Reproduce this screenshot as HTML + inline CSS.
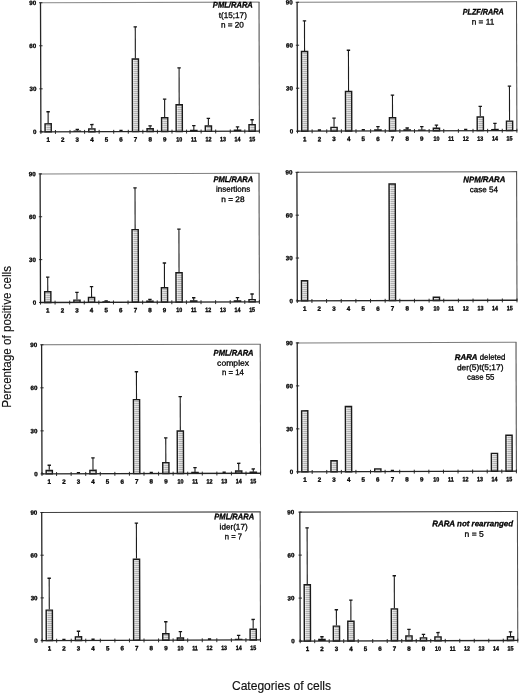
<!DOCTYPE html>
<html><head><meta charset="utf-8"><title>Figure</title>
<style>
html,body{margin:0;padding:0;background:#fff;}
body{width:520px;height:693px;overflow:hidden;}
svg{display:block;font-family:"Liberation Sans",sans-serif;filter:grayscale(1);}
.tk{font-size:6.2px;font-weight:bold;fill:#000;stroke:#000;stroke-width:0.32;}
.bi{font-size:8px;font-weight:bold;font-style:italic;fill:#000;stroke:#000;stroke-width:0.3;}
.rg{font-size:8px;font-weight:normal;font-style:normal;fill:#000;stroke:#000;stroke-width:0.28;}
.ax{stroke:#262626;stroke-width:1.3;fill:none;}
.fr{stroke:#4c4c4c;stroke-width:1.05;fill:none;}
.t{stroke:#222;stroke-width:0.95;fill:none;}
.e{stroke:#1c1c1c;stroke-width:1.1;fill:none;}
.c{stroke:#151515;stroke-width:1.3;fill:none;}
.bo{fill:none;stroke:#1a1a1a;stroke-width:1.4;}
.bf{fill:url(#dots);stroke:none;}
.m{fill:#151515;stroke:none;}
.lab{font-size:12.05px;fill:#111;stroke:#111;stroke-width:0.15;}
</style></head><body>
<svg width="520" height="693" viewBox="0 0 520 693">
<defs>
<pattern id="dots" width="2" height="2" patternUnits="userSpaceOnUse">
<rect width="2" height="2" fill="#e0e0e0"/><rect x="0" y="1" width="2" height="1" fill="#b2b2b2"/>
</pattern>
</defs>
<rect width="520" height="693" fill="#fff"/>
<g><rect class="bf" x="45.06" y="123.82" width="6.2" height="8.01"/><rect x="45.76" y="124.42" width="1.1" height="7.21" fill="#fff" fill-opacity="0.45"/><rect class="bf" x="88.77" y="128.86" width="6.2" height="2.84"/><rect x="89.47" y="129.46" width="1.1" height="2.04" fill="#fff" fill-opacity="0.45"/><rect class="bf" x="132.37" y="59.01" width="6.2" height="72.56"/><rect x="133.07" y="59.61" width="1.1" height="71.76" fill="#fff" fill-opacity="0.45"/><rect class="bf" x="147.04" y="128.68" width="6.2" height="2.84"/><rect x="147.74" y="129.28" width="1.1" height="2.04" fill="#fff" fill-opacity="0.45"/><rect class="bf" x="161.59" y="117.74" width="6.2" height="13.74"/><rect x="162.29" y="118.34" width="1.1" height="12.94" fill="#fff" fill-opacity="0.45"/><rect class="bf" x="176.13" y="104.78" width="6.2" height="26.65"/><rect x="176.83" y="105.38" width="1.1" height="25.85" fill="#fff" fill-opacity="0.45"/><rect class="bf" x="205.3" y="125.93" width="6.2" height="5.42"/><rect x="206" y="126.53" width="1.1" height="4.62" fill="#fff" fill-opacity="0.45"/><rect class="bf" x="249" y="124.65" width="6.2" height="6.57"/><rect x="249.7" y="125.25" width="1.1" height="5.77" fill="#fff" fill-opacity="0.45"/><rect class="bf" x="301.59" y="51.54" width="6.2" height="79.64"/><rect x="302.29" y="52.14" width="1.1" height="78.84" fill="#fff" fill-opacity="0.45"/><rect class="bf" x="330.95" y="127.39" width="6.2" height="3.7"/><rect x="331.65" y="127.99" width="1.1" height="2.9" fill="#fff" fill-opacity="0.45"/><rect class="bf" x="345.53" y="91.53" width="6.2" height="39.52"/><rect x="346.23" y="92.13" width="1.1" height="38.72" fill="#fff" fill-opacity="0.45"/><rect class="bf" x="389.44" y="117.76" width="6.2" height="13.15"/><rect x="390.14" y="118.36" width="1.1" height="12.35" fill="#fff" fill-opacity="0.45"/><rect class="bf" x="433.34" y="128.24" width="6.2" height="2.55"/><rect x="434.04" y="128.84" width="1.1" height="1.75" fill="#fff" fill-opacity="0.45"/><rect class="bf" x="477.2" y="116.93" width="6.2" height="13.73"/><rect x="477.9" y="117.53" width="1.1" height="12.93" fill="#fff" fill-opacity="0.45"/><rect class="bf" x="506.46" y="121.14" width="6.2" height="9.43"/><rect x="507.16" y="121.74" width="1.1" height="8.63" fill="#fff" fill-opacity="0.45"/><rect class="bf" x="44.67" y="291.79" width="6.2" height="10.69"/><rect x="45.37" y="292.39" width="1.1" height="9.89" fill="#fff" fill-opacity="0.45"/><rect class="bf" x="73.87" y="300.13" width="6.2" height="2.26"/><rect x="74.57" y="300.73" width="1.1" height="1.46" fill="#fff" fill-opacity="0.45"/><rect class="bf" x="88.46" y="297.52" width="6.2" height="4.83"/><rect x="89.16" y="298.12" width="1.1" height="4.03" fill="#fff" fill-opacity="0.45"/><rect class="bf" x="132.14" y="229.66" width="6.2" height="72.56"/><rect x="132.84" y="230.26" width="1.1" height="71.76" fill="#fff" fill-opacity="0.45"/><rect class="bf" x="161.41" y="287.73" width="6.2" height="14.4"/><rect x="162.11" y="288.33" width="1.1" height="13.6" fill="#fff" fill-opacity="0.45"/><rect class="bf" x="175.98" y="272.68" width="6.2" height="29.41"/><rect x="176.68" y="273.28" width="1.1" height="28.61" fill="#fff" fill-opacity="0.45"/><rect class="bf" x="248.99" y="299.61" width="6.2" height="2.26"/><rect x="249.69" y="300.21" width="1.1" height="1.46" fill="#fff" fill-opacity="0.45"/><rect class="bf" x="301.48" y="280.76" width="6.2" height="20.12"/><rect x="302.18" y="281.36" width="1.1" height="19.32" fill="#fff" fill-opacity="0.45"/><rect class="bf" x="389.22" y="184.05" width="6.2" height="116.57"/><rect x="389.92" y="184.65" width="1.1" height="115.77" fill="#fff" fill-opacity="0.45"/><rect class="bf" x="433.33" y="297.23" width="6.2" height="3.26"/><rect x="434.03" y="297.83" width="1.1" height="2.46" fill="#fff" fill-opacity="0.45"/><rect class="bf" x="46.17" y="470.46" width="6.2" height="3.42"/><rect x="46.87" y="471.06" width="1.1" height="2.62" fill="#fff" fill-opacity="0.45"/><rect class="bf" x="89.89" y="470.33" width="6.2" height="3.42"/><rect x="90.59" y="470.93" width="1.1" height="2.62" fill="#fff" fill-opacity="0.45"/><rect class="bf" x="133.51" y="399.63" width="6.2" height="73.99"/><rect x="134.21" y="400.23" width="1.1" height="73.19" fill="#fff" fill-opacity="0.45"/><rect class="bf" x="162.75" y="462.66" width="6.2" height="10.88"/><rect x="163.45" y="463.26" width="1.1" height="10.08" fill="#fff" fill-opacity="0.45"/><rect class="bf" x="177.27" y="431.06" width="6.2" height="42.43"/><rect x="177.97" y="431.66" width="1.1" height="41.63" fill="#fff" fill-opacity="0.45"/><rect class="bf" x="235.63" y="471.05" width="6.2" height="2.27"/><rect x="236.33" y="471.65" width="1.1" height="1.47" fill="#fff" fill-opacity="0.45"/><rect class="bf" x="301.69" y="410.82" width="6.2" height="61.01"/><rect x="302.39" y="411.42" width="1.1" height="60.21" fill="#fff" fill-opacity="0.45"/><rect class="bf" x="330.94" y="460.74" width="6.2" height="11.01"/><rect x="331.64" y="461.34" width="1.1" height="10.21" fill="#fff" fill-opacity="0.45"/><rect class="bf" x="345.45" y="406.53" width="6.2" height="65.16"/><rect x="346.15" y="407.13" width="1.1" height="64.36" fill="#fff" fill-opacity="0.45"/><rect class="bf" x="374.71" y="468.92" width="6.2" height="2.7"/><rect x="375.41" y="469.52" width="1.1" height="1.9" fill="#fff" fill-opacity="0.45"/><rect class="bf" x="491.38" y="453.38" width="6.2" height="17.88"/><rect x="492.08" y="453.98" width="1.1" height="17.08" fill="#fff" fill-opacity="0.45"/><rect class="bf" x="505.94" y="435.29" width="6.2" height="35.94"/><rect x="506.64" y="435.89" width="1.1" height="35.14" fill="#fff" fill-opacity="0.45"/><rect class="bf" x="46.22" y="610.15" width="6.2" height="30.43"/><rect x="46.92" y="610.75" width="1.1" height="29.63" fill="#fff" fill-opacity="0.45"/><rect class="bf" x="75.38" y="636.82" width="6.2" height="3.67"/><rect x="76.08" y="637.42" width="1.1" height="2.87" fill="#fff" fill-opacity="0.45"/><rect class="bf" x="133.51" y="559.22" width="6.2" height="81.1"/><rect x="134.21" y="559.82" width="1.1" height="80.3" fill="#fff" fill-opacity="0.45"/><rect class="bf" x="162.74" y="633.72" width="6.2" height="6.52"/><rect x="163.44" y="634.32" width="1.1" height="5.72" fill="#fff" fill-opacity="0.45"/><rect class="bf" x="177.31" y="637.94" width="6.2" height="2.25"/><rect x="178.01" y="638.54" width="1.1" height="1.45" fill="#fff" fill-opacity="0.45"/><rect class="bf" x="250.09" y="629.19" width="6.2" height="10.79"/><rect x="250.79" y="629.79" width="1.1" height="9.99" fill="#fff" fill-opacity="0.45"/><rect class="bf" x="304.26" y="584.78" width="6.2" height="56.3"/><rect x="304.96" y="585.38" width="1.1" height="55.5" fill="#fff" fill-opacity="0.45"/><rect class="bf" x="333.34" y="626.11" width="6.2" height="14.88"/><rect x="334.04" y="626.71" width="1.1" height="14.08" fill="#fff" fill-opacity="0.45"/><rect class="bf" x="347.83" y="621.2" width="6.2" height="19.75"/><rect x="348.53" y="621.8" width="1.1" height="18.95" fill="#fff" fill-opacity="0.45"/><rect class="bf" x="391.34" y="608.88" width="6.2" height="31.94"/><rect x="392.04" y="609.48" width="1.1" height="31.14" fill="#fff" fill-opacity="0.45"/><rect class="bf" x="405.88" y="635.93" width="6.2" height="4.85"/><rect x="406.58" y="636.53" width="1.1" height="4.05" fill="#fff" fill-opacity="0.45"/><rect class="bf" x="420.39" y="637.89" width="6.2" height="2.84"/><rect x="421.09" y="638.49" width="1.1" height="2.04" fill="#fff" fill-opacity="0.45"/><rect class="bf" x="434.9" y="636.85" width="6.2" height="3.84"/><rect x="435.6" y="637.45" width="1.1" height="3.04" fill="#fff" fill-opacity="0.45"/><rect class="bf" x="507.43" y="636.78" width="6.2" height="3.7"/><rect x="508.13" y="637.38" width="1.1" height="2.9" fill="#fff" fill-opacity="0.45"/></g>

<g transform="rotate(-0.17 40.7 67.3)">
<path class="fr" style="stroke:#8a8a8a" d="M40.7 2.75H259.7"/>
<path class="fr" d="M259.2 2.75V131.85"/>
<path class="e" d="M47.98 111.77V123.24"/>
<path class="c" d="M46.28 111.77H49.68"/>
<rect class="bo" x="44.88" y="123.84" width="6.2" height="8.01"/>
<path class="e" d="M77.12 129.41V130.85"/>
<path class="c" d="M75.42 129.41H78.82"/>
<rect class="m" x="73.32" y="130.55" width="7.6" height="1.3"/>
<path class="e" d="M91.68 124.68V128.41"/>
<path class="c" d="M89.98 124.68H93.38"/>
<rect class="bo" x="88.58" y="129.01" width="6.2" height="2.84"/>
<rect class="m" x="119.22" y="129.95" width="3.2" height="1.7"/>
<path class="e" d="M135.38 27.14V58.69"/>
<path class="c" d="M133.68 27.14H137.08"/>
<rect class="bo" x="132.28" y="59.29" width="6.2" height="72.56"/>
<path class="e" d="M149.95 126.11V128.41"/>
<path class="c" d="M148.25 126.11H151.65"/>
<rect class="bo" x="146.85" y="129.01" width="6.2" height="2.84"/>
<path class="e" d="M164.52 99.57V117.51"/>
<path class="c" d="M162.82 99.57H166.22"/>
<rect class="bo" x="161.42" y="118.11" width="6.2" height="13.74"/>
<path class="e" d="M179.08 68.3V104.6"/>
<path class="c" d="M177.38 68.3H180.78"/>
<rect class="bo" x="175.98" y="105.2" width="6.2" height="26.65"/>
<path class="e" d="M193.65 126.11V130.42"/>
<path class="c" d="M191.95 126.11H195.35"/>
<rect class="m" x="189.85" y="130.12" width="7.6" height="1.73"/>
<path class="e" d="M208.22 118.94V125.83"/>
<path class="c" d="M206.52 118.94H209.92"/>
<rect class="bo" x="205.12" y="126.43" width="6.2" height="5.42"/>
<path class="e" d="M237.35 127.55V130.42"/>
<path class="c" d="M235.65 127.55H239.05"/>
<rect class="m" x="233.55" y="130.12" width="7.6" height="1.73"/>
<path class="e" d="M251.92 120.37V124.68"/>
<path class="c" d="M250.22 120.37H253.62"/>
<rect class="bo" x="248.82" y="125.28" width="6.2" height="6.57"/>
<path class="ax" d="M40.7 2.45V131.85H259.6"/>
<path class="t" d="M40.7 130.05V133.95M55.27 130.05V133.95M69.83 130.05V133.95M84.4 130.05V133.95M98.97 130.05V133.95M113.53 130.05V133.95M128.1 130.05V133.95M142.67 130.05V133.95M157.23 130.05V133.95M171.8 130.05V133.95M186.37 130.05V133.95M200.93 130.05V133.95M215.5 130.05V133.95M230.07 130.05V133.95M244.63 130.05V133.95M259.2 130.05V133.95M39.3 131.85H42.6M39.3 88.82H42.6M39.3 45.78H42.6M39.3 2.75H42.6"/>
<text class="tk" text-anchor="end" x="36.3" y="134.1">0</text>
<text class="tk" text-anchor="end" x="36.3" y="91.07">30</text>
<text class="tk" text-anchor="end" x="36.3" y="48.03">60</text>
<text class="tk" text-anchor="end" x="36.3" y="5">90</text>
<text class="tk" text-anchor="middle" x="47.98" y="141.85">1</text>
<text class="tk" text-anchor="middle" x="62.55" y="141.85">2</text>
<text class="tk" text-anchor="middle" x="77.12" y="141.85">3</text>
<text class="tk" text-anchor="middle" x="91.68" y="141.85">4</text>
<text class="tk" text-anchor="middle" x="106.25" y="141.85">5</text>
<text class="tk" text-anchor="middle" x="120.82" y="141.85">6</text>
<text class="tk" text-anchor="middle" x="135.38" y="141.85">7</text>
<text class="tk" text-anchor="middle" x="149.95" y="141.85">8</text>
<text class="tk" text-anchor="middle" x="164.52" y="141.85">9</text>
<text class="tk" text-anchor="middle" transform="translate(179.08 141.85) scale(0.87 1)">10</text>
<text class="tk" text-anchor="middle" transform="translate(193.65 141.85) scale(0.87 1)">11</text>
<text class="tk" text-anchor="middle" transform="translate(208.22 141.85) scale(0.87 1)">12</text>
<text class="tk" text-anchor="middle" transform="translate(222.78 141.85) scale(0.87 1)">13</text>
<text class="tk" text-anchor="middle" transform="translate(237.35 141.85) scale(0.87 1)">14</text>
<text class="tk" text-anchor="middle" transform="translate(251.92 141.85) scale(0.87 1)">15</text>
<text xml:space="preserve" textLength="40" lengthAdjust="spacingAndGlyphs" x="213" y="8.08"><tspan class="bi">PML/RARA</tspan></text>
<text xml:space="preserve" textLength="28" lengthAdjust="spacingAndGlyphs" x="219" y="18.58"><tspan class="rg">t(15;17)</tspan></text>
<text xml:space="preserve" textLength="23" lengthAdjust="spacingAndGlyphs" x="221" y="28.08"><tspan class="rg">n = 20</tspan></text>
</g>
<g transform="rotate(-0.17 297.3 66.72)">
<path class="fr" style="stroke:#808080" d="M297.3 2.25H517.2"/>
<path class="fr" d="M516.7 2.25V131.2"/>
<path class="e" d="M304.61 20.88V50.96"/>
<path class="c" d="M302.91 20.88H306.31"/>
<rect class="bo" x="301.51" y="51.56" width="6.2" height="79.64"/>
<rect class="m" x="317.64" y="129.3" width="3.2" height="1.7"/>
<path class="e" d="M333.87 118.3V126.9"/>
<path class="c" d="M332.17 118.3H335.57"/>
<rect class="bo" x="330.77" y="127.5" width="6.2" height="3.7"/>
<path class="e" d="M348.49 50.39V91.08"/>
<path class="c" d="M346.79 50.39H350.19"/>
<rect class="bo" x="345.39" y="91.68" width="6.2" height="39.52"/>
<rect class="m" x="361.52" y="129.3" width="3.2" height="1.7"/>
<path class="e" d="M377.75 126.9V129.77"/>
<path class="c" d="M376.05 126.9H379.45"/>
<rect class="m" x="373.95" y="129.47" width="7.6" height="1.73"/>
<path class="e" d="M392.37 95.38V117.45"/>
<path class="c" d="M390.67 95.38H394.07"/>
<rect class="bo" x="389.27" y="118.05" width="6.2" height="13.15"/>
<path class="e" d="M407 128.33V129.77"/>
<path class="c" d="M405.3 128.33H408.7"/>
<rect class="m" x="403.2" y="129.47" width="7.6" height="1.73"/>
<path class="e" d="M421.63 126.9V130.2"/>
<path class="c" d="M419.93 126.9H423.33"/>
<rect class="m" x="417.83" y="129.9" width="7.6" height="1.3"/>
<path class="e" d="M436.25 125.47V128.05"/>
<path class="c" d="M434.55 125.47H437.95"/>
<rect class="bo" x="433.15" y="128.65" width="6.2" height="2.55"/>
<rect class="m" x="463.91" y="129.3" width="3.2" height="1.7"/>
<path class="e" d="M480.13 106.84V116.87"/>
<path class="c" d="M478.43 106.84H481.83"/>
<rect class="bo" x="477.03" y="117.47" width="6.2" height="13.73"/>
<path class="e" d="M494.76 124.04V129.77"/>
<path class="c" d="M493.06 124.04H496.46"/>
<rect class="m" x="490.96" y="129.47" width="7.6" height="1.73"/>
<path class="e" d="M509.39 86.78V121.17"/>
<path class="c" d="M507.69 86.78H511.09"/>
<rect class="bo" x="506.29" y="121.77" width="6.2" height="9.43"/>
<path class="ax" d="M297.3 1.95V131.2H517.1"/>
<path class="t" d="M297.3 129.4V133.3M311.93 129.4V133.3M326.55 129.4V133.3M341.18 129.4V133.3M355.81 129.4V133.3M370.43 129.4V133.3M385.06 129.4V133.3M399.69 129.4V133.3M414.31 129.4V133.3M428.94 129.4V133.3M443.57 129.4V133.3M458.19 129.4V133.3M472.82 129.4V133.3M487.45 129.4V133.3M502.07 129.4V133.3M516.7 129.4V133.3M295.9 131.2H299.2M295.9 88.22H299.2M295.9 45.23H299.2M295.9 2.25H299.2"/>
<text class="tk" text-anchor="end" x="292.9" y="133.45">0</text>
<text class="tk" text-anchor="end" x="292.9" y="90.47">30</text>
<text class="tk" text-anchor="end" x="292.9" y="47.48">60</text>
<text class="tk" text-anchor="end" x="292.9" y="4.5">90</text>
<text class="tk" text-anchor="middle" x="304.61" y="141.2">1</text>
<text class="tk" text-anchor="middle" x="319.24" y="141.2">2</text>
<text class="tk" text-anchor="middle" x="333.87" y="141.2">3</text>
<text class="tk" text-anchor="middle" x="348.49" y="141.2">4</text>
<text class="tk" text-anchor="middle" x="363.12" y="141.2">5</text>
<text class="tk" text-anchor="middle" x="377.75" y="141.2">6</text>
<text class="tk" text-anchor="middle" x="392.37" y="141.2">7</text>
<text class="tk" text-anchor="middle" x="407" y="141.2">8</text>
<text class="tk" text-anchor="middle" x="421.63" y="141.2">9</text>
<text class="tk" text-anchor="middle" transform="translate(436.25 141.2) scale(0.87 1)">10</text>
<text class="tk" text-anchor="middle" transform="translate(450.88 141.2) scale(0.87 1)">11</text>
<text class="tk" text-anchor="middle" transform="translate(465.51 141.2) scale(0.87 1)">12</text>
<text class="tk" text-anchor="middle" transform="translate(480.13 141.2) scale(0.87 1)">13</text>
<text class="tk" text-anchor="middle" transform="translate(494.76 141.2) scale(0.87 1)">14</text>
<text class="tk" text-anchor="middle" transform="translate(509.39 141.2) scale(0.87 1)">15</text>
<text xml:space="preserve" textLength="41" lengthAdjust="spacingAndGlyphs" x="462.8" y="14.96"><tspan class="bi">PLZF/RARA</tspan></text>
<text xml:space="preserve" textLength="22.5" lengthAdjust="spacingAndGlyphs" x="471.85" y="24.96"><tspan class="rg">n = 11</tspan></text>
</g>
<g transform="rotate(-0.17 40.3 238.2)">
<path class="fr" style="stroke:#808080" d="M40.3 173.9H259.7"/>
<path class="fr" d="M259.2 173.9V302.5"/>
<path class="e" d="M47.6 277.07V291.21"/>
<path class="c" d="M45.9 277.07H49.3"/>
<rect class="bo" x="44.5" y="291.81" width="6.2" height="10.69"/>
<path class="e" d="M76.78 292.5V299.64"/>
<path class="c" d="M75.08 292.5H78.48"/>
<rect class="bo" x="73.68" y="300.24" width="6.2" height="2.26"/>
<path class="e" d="M91.38 286.78V297.07"/>
<path class="c" d="M89.68 286.78H93.08"/>
<rect class="bo" x="88.28" y="297.67" width="6.2" height="4.83"/>
<path class="e" d="M105.97 301.07V301.79"/>
<path class="c" d="M104.27 301.07H107.67"/>
<rect class="m" x="102.17" y="301.49" width="7.6" height="1.01"/>
<path class="e" d="M135.16 188.19V229.34"/>
<path class="c" d="M133.46 188.19H136.86"/>
<rect class="bo" x="132.06" y="229.94" width="6.2" height="72.56"/>
<path class="e" d="M149.75 299.64V301.07"/>
<path class="c" d="M148.05 299.64H151.45"/>
<rect class="m" x="145.95" y="300.77" width="7.6" height="1.73"/>
<path class="e" d="M164.34 263.35V287.5"/>
<path class="c" d="M162.64 263.35H166.04"/>
<rect class="bo" x="161.24" y="288.1" width="6.2" height="14.4"/>
<path class="e" d="M178.94 229.63V272.49"/>
<path class="c" d="M177.24 229.63H180.64"/>
<rect class="bo" x="175.84" y="273.09" width="6.2" height="29.41"/>
<path class="e" d="M193.53 298.21V301.07"/>
<path class="c" d="M191.83 298.21H195.23"/>
<rect class="m" x="189.73" y="300.77" width="7.6" height="1.73"/>
<path class="e" d="M237.31 298.21V301.07"/>
<path class="c" d="M235.61 298.21H239.01"/>
<rect class="m" x="233.51" y="300.77" width="7.6" height="1.73"/>
<path class="e" d="M251.9 294.64V299.64"/>
<path class="c" d="M250.2 294.64H253.6"/>
<rect class="bo" x="248.8" y="300.24" width="6.2" height="2.26"/>
<path class="ax" d="M40.3 173.6V302.5H259.6"/>
<path class="t" d="M40.3 300.7V304.6M54.89 300.7V304.6M69.49 300.7V304.6M84.08 300.7V304.6M98.67 300.7V304.6M113.27 300.7V304.6M127.86 300.7V304.6M142.45 300.7V304.6M157.05 300.7V304.6M171.64 300.7V304.6M186.23 300.7V304.6M200.83 300.7V304.6M215.42 300.7V304.6M230.01 300.7V304.6M244.61 300.7V304.6M259.2 300.7V304.6M38.9 302.5H42.2M38.9 259.63H42.2M38.9 216.77H42.2M38.9 173.9H42.2"/>
<text class="tk" text-anchor="end" x="35.9" y="304.75">0</text>
<text class="tk" text-anchor="end" x="35.9" y="261.88">30</text>
<text class="tk" text-anchor="end" x="35.9" y="219.02">60</text>
<text class="tk" text-anchor="end" x="35.9" y="176.15">90</text>
<text class="tk" text-anchor="middle" x="47.6" y="312.5">1</text>
<text class="tk" text-anchor="middle" x="62.19" y="312.5">2</text>
<text class="tk" text-anchor="middle" x="76.78" y="312.5">3</text>
<text class="tk" text-anchor="middle" x="91.38" y="312.5">4</text>
<text class="tk" text-anchor="middle" x="105.97" y="312.5">5</text>
<text class="tk" text-anchor="middle" x="120.56" y="312.5">6</text>
<text class="tk" text-anchor="middle" x="135.16" y="312.5">7</text>
<text class="tk" text-anchor="middle" x="149.75" y="312.5">8</text>
<text class="tk" text-anchor="middle" x="164.34" y="312.5">9</text>
<text class="tk" text-anchor="middle" transform="translate(178.94 312.5) scale(0.87 1)">10</text>
<text class="tk" text-anchor="middle" transform="translate(193.53 312.5) scale(0.87 1)">11</text>
<text class="tk" text-anchor="middle" transform="translate(208.12 312.5) scale(0.87 1)">12</text>
<text class="tk" text-anchor="middle" transform="translate(222.72 312.5) scale(0.87 1)">13</text>
<text class="tk" text-anchor="middle" transform="translate(237.31 312.5) scale(0.87 1)">14</text>
<text class="tk" text-anchor="middle" transform="translate(251.9 312.5) scale(0.87 1)">15</text>
<text xml:space="preserve" textLength="39.7" lengthAdjust="spacingAndGlyphs" x="213.65" y="182.58"><tspan class="bi">PML/RARA</tspan></text>
<text xml:space="preserve" textLength="34.25" lengthAdjust="spacingAndGlyphs" x="216.12" y="192.33"><tspan class="rg">insertions</tspan></text>
<text xml:space="preserve" textLength="23.25" lengthAdjust="spacingAndGlyphs" x="221.38" y="202.58"><tspan class="rg">n = 28</tspan></text>
</g>
<g transform="rotate(-0.17 297.1 236.6)">
<path class="fr" style="stroke:#5c5c5c" d="M297.1 172.3H517.3"/>
<path class="fr" d="M516.8 172.3V300.9"/>
<rect class="bo" x="301.32" y="280.78" width="6.2" height="20.12"/>
<rect class="bo" x="389.2" y="184.33" width="6.2" height="116.57"/>
<rect class="bo" x="433.14" y="297.64" width="6.2" height="3.26"/>
<path class="ax" d="M297.1 172V300.9H517.2"/>
<path class="t" d="M297.1 299.1V303M311.75 299.1V303M326.39 299.1V303M341.04 299.1V303M355.69 299.1V303M370.33 299.1V303M384.98 299.1V303M399.63 299.1V303M414.27 299.1V303M428.92 299.1V303M443.57 299.1V303M458.21 299.1V303M472.86 299.1V303M487.51 299.1V303M502.15 299.1V303M516.8 299.1V303M295.7 300.9H299M295.7 258.03H299M295.7 215.17H299M295.7 172.3H299"/>
<text class="tk" text-anchor="end" x="292.7" y="303.15">0</text>
<text class="tk" text-anchor="end" x="292.7" y="260.28">30</text>
<text class="tk" text-anchor="end" x="292.7" y="217.42">60</text>
<text class="tk" text-anchor="end" x="292.7" y="174.55">90</text>
<text class="tk" text-anchor="middle" x="304.42" y="310.9">1</text>
<text class="tk" text-anchor="middle" x="319.07" y="310.9">2</text>
<text class="tk" text-anchor="middle" x="333.72" y="310.9">3</text>
<text class="tk" text-anchor="middle" x="348.36" y="310.9">4</text>
<text class="tk" text-anchor="middle" x="363.01" y="310.9">5</text>
<text class="tk" text-anchor="middle" x="377.66" y="310.9">6</text>
<text class="tk" text-anchor="middle" x="392.3" y="310.9">7</text>
<text class="tk" text-anchor="middle" x="406.95" y="310.9">8</text>
<text class="tk" text-anchor="middle" x="421.6" y="310.9">9</text>
<text class="tk" text-anchor="middle" transform="translate(436.24 310.9) scale(0.87 1)">10</text>
<text class="tk" text-anchor="middle" transform="translate(450.89 310.9) scale(0.87 1)">11</text>
<text class="tk" text-anchor="middle" transform="translate(465.54 310.9) scale(0.87 1)">12</text>
<text class="tk" text-anchor="middle" transform="translate(480.18 310.9) scale(0.87 1)">13</text>
<text class="tk" text-anchor="middle" transform="translate(494.83 310.9) scale(0.87 1)">14</text>
<text class="tk" text-anchor="middle" transform="translate(509.48 310.9) scale(0.87 1)">15</text>
<text xml:space="preserve" textLength="42" lengthAdjust="spacingAndGlyphs" x="463.5" y="182.66"><tspan class="bi">NPM/RARA</tspan></text>
<text xml:space="preserve" textLength="28.4" lengthAdjust="spacingAndGlyphs" x="469.8" y="192.76"><tspan class="rg">case 54</tspan></text>
</g>
<g transform="rotate(-0.17 41.8 409.35)">
<path class="fr" style="stroke:#747474" d="M41.8 344.8H260.9"/>
<path class="fr" d="M260.4 344.8V473.9"/>
<path class="e" d="M49.09 465.29V469.88"/>
<path class="c" d="M47.39 465.29H50.79"/>
<rect class="bo" x="45.99" y="470.48" width="6.2" height="3.42"/>
<rect class="m" x="76.63" y="472" width="3.2" height="1.7"/>
<path class="e" d="M92.81 458.12V469.88"/>
<path class="c" d="M91.11 458.12H94.51"/>
<rect class="bo" x="89.71" y="470.48" width="6.2" height="3.42"/>
<path class="e" d="M136.53 372.05V399.31"/>
<path class="c" d="M134.83 372.05H138.23"/>
<rect class="bo" x="133.43" y="399.91" width="6.2" height="73.99"/>
<rect class="m" x="149.5" y="472" width="3.2" height="1.7"/>
<path class="e" d="M165.67 438.33V462.42"/>
<path class="c" d="M163.97 438.33H167.37"/>
<rect class="bo" x="162.57" y="463.02" width="6.2" height="10.88"/>
<path class="e" d="M180.25 397.01V430.87"/>
<path class="c" d="M178.55 397.01H181.95"/>
<rect class="bo" x="177.15" y="431.47" width="6.2" height="42.43"/>
<path class="e" d="M194.82 468.16V472.47"/>
<path class="c" d="M193.12 468.16H196.52"/>
<rect class="m" x="191.02" y="472.17" width="7.6" height="1.73"/>
<rect class="m" x="222.37" y="472" width="3.2" height="1.7"/>
<path class="e" d="M238.54 463.86V471.03"/>
<path class="c" d="M236.84 463.86H240.24"/>
<rect class="bo" x="235.44" y="471.63" width="6.2" height="2.27"/>
<path class="e" d="M253.11 469.6V472.47"/>
<path class="c" d="M251.41 469.6H254.81"/>
<rect class="m" x="249.31" y="472.17" width="7.6" height="1.73"/>
<path class="ax" d="M41.8 344.5V473.9H260.8"/>
<path class="t" d="M41.8 472.1V476M56.37 472.1V476M70.95 472.1V476M85.52 472.1V476M100.09 472.1V476M114.67 472.1V476M129.24 472.1V476M143.81 472.1V476M158.39 472.1V476M172.96 472.1V476M187.53 472.1V476M202.11 472.1V476M216.68 472.1V476M231.25 472.1V476M245.83 472.1V476M260.4 472.1V476M40.4 473.9H43.7M40.4 430.87H43.7M40.4 387.83H43.7M40.4 344.8H43.7"/>
<text class="tk" text-anchor="end" x="37.4" y="476.15">0</text>
<text class="tk" text-anchor="end" x="37.4" y="433.12">30</text>
<text class="tk" text-anchor="end" x="37.4" y="390.08">60</text>
<text class="tk" text-anchor="end" x="37.4" y="347.05">90</text>
<text class="tk" text-anchor="middle" x="49.09" y="483.9">1</text>
<text class="tk" text-anchor="middle" x="63.66" y="483.9">2</text>
<text class="tk" text-anchor="middle" x="78.23" y="483.9">3</text>
<text class="tk" text-anchor="middle" x="92.81" y="483.9">4</text>
<text class="tk" text-anchor="middle" x="107.38" y="483.9">5</text>
<text class="tk" text-anchor="middle" x="121.95" y="483.9">6</text>
<text class="tk" text-anchor="middle" x="136.53" y="483.9">7</text>
<text class="tk" text-anchor="middle" x="151.1" y="483.9">8</text>
<text class="tk" text-anchor="middle" x="165.67" y="483.9">9</text>
<text class="tk" text-anchor="middle" transform="translate(180.25 483.9) scale(0.87 1)">10</text>
<text class="tk" text-anchor="middle" transform="translate(194.82 483.9) scale(0.87 1)">11</text>
<text class="tk" text-anchor="middle" transform="translate(209.39 483.9) scale(0.87 1)">12</text>
<text class="tk" text-anchor="middle" transform="translate(223.97 483.9) scale(0.87 1)">13</text>
<text class="tk" text-anchor="middle" transform="translate(238.54 483.9) scale(0.87 1)">14</text>
<text class="tk" text-anchor="middle" transform="translate(253.11 483.9) scale(0.87 1)">15</text>
<text xml:space="preserve" textLength="40" lengthAdjust="spacingAndGlyphs" x="213.75" y="356.08"><tspan class="bi">PML/RARA</tspan></text>
<text xml:space="preserve" textLength="32" lengthAdjust="spacingAndGlyphs" x="217.25" y="366.32"><tspan class="rg">complex</tspan></text>
<text xml:space="preserve" textLength="22" lengthAdjust="spacingAndGlyphs" x="222" y="375.57"><tspan class="rg">n = 14</tspan></text>
</g>
<g transform="rotate(-0.17 297.4 407.38)">
<path class="fr" style="stroke:#7c7c7c" d="M297.4 342.9H516.7"/>
<path class="fr" d="M516.2 342.9V471.85"/>
<rect class="bo" x="301.59" y="410.84" width="6.2" height="61.01"/>
<rect class="bo" x="330.77" y="460.84" width="6.2" height="11.01"/>
<rect class="bo" x="345.35" y="406.69" width="6.2" height="65.16"/>
<rect class="bo" x="374.53" y="469.15" width="6.2" height="2.7"/>
<rect class="m" x="390.61" y="469.95" width="3.2" height="1.7"/>
<rect class="bo" x="491.22" y="453.97" width="6.2" height="17.88"/>
<rect class="bo" x="505.81" y="435.91" width="6.2" height="35.94"/>
<path class="ax" d="M297.4 342.6V471.85H516.6"/>
<path class="t" d="M297.4 470.05V473.95M311.99 470.05V473.95M326.57 470.05V473.95M341.16 470.05V473.95M355.75 470.05V473.95M370.33 470.05V473.95M384.92 470.05V473.95M399.51 470.05V473.95M414.09 470.05V473.95M428.68 470.05V473.95M443.27 470.05V473.95M457.85 470.05V473.95M472.44 470.05V473.95M487.03 470.05V473.95M501.61 470.05V473.95M516.2 470.05V473.95M296 471.85H299.3M296 428.87H299.3M296 385.88H299.3M296 342.9H299.3"/>
<text class="tk" text-anchor="end" x="293" y="474.1">0</text>
<text class="tk" text-anchor="end" x="293" y="431.12">30</text>
<text class="tk" text-anchor="end" x="293" y="388.13">60</text>
<text class="tk" text-anchor="end" x="293" y="345.15">90</text>
<text class="tk" text-anchor="middle" x="304.69" y="481.85">1</text>
<text class="tk" text-anchor="middle" x="319.28" y="481.85">2</text>
<text class="tk" text-anchor="middle" x="333.87" y="481.85">3</text>
<text class="tk" text-anchor="middle" x="348.45" y="481.85">4</text>
<text class="tk" text-anchor="middle" x="363.04" y="481.85">5</text>
<text class="tk" text-anchor="middle" x="377.63" y="481.85">6</text>
<text class="tk" text-anchor="middle" x="392.21" y="481.85">7</text>
<text class="tk" text-anchor="middle" x="406.8" y="481.85">8</text>
<text class="tk" text-anchor="middle" x="421.39" y="481.85">9</text>
<text class="tk" text-anchor="middle" transform="translate(435.97 481.85) scale(0.87 1)">10</text>
<text class="tk" text-anchor="middle" transform="translate(450.56 481.85) scale(0.87 1)">11</text>
<text class="tk" text-anchor="middle" transform="translate(465.15 481.85) scale(0.87 1)">12</text>
<text class="tk" text-anchor="middle" transform="translate(479.73 481.85) scale(0.87 1)">13</text>
<text class="tk" text-anchor="middle" transform="translate(494.32 481.85) scale(0.87 1)">14</text>
<text class="tk" text-anchor="middle" transform="translate(508.91 481.85) scale(0.87 1)">15</text>
<text xml:space="preserve" textLength="50.6" lengthAdjust="spacingAndGlyphs" x="455" y="360.35"><tspan class="bi">RARA</tspan><tspan class="rg"> deleted</tspan></text>
<text xml:space="preserve" textLength="46.6" lengthAdjust="spacingAndGlyphs" x="457" y="370.65"><tspan class="rg">der(5)t(5;17)</tspan></text>
<text xml:space="preserve" textLength="27.4" lengthAdjust="spacingAndGlyphs" x="467.1" y="380.35"><tspan class="rg">case 55</tspan></text>
</g>
<g transform="rotate(-0.17 41.9 576.55)">
<path class="fr" style="stroke:#444" d="M41.9 512.5H260.8"/>
<path class="fr" d="M260.3 512.5V640.6"/>
<path class="e" d="M49.18 578.26V609.57"/>
<path class="c" d="M47.48 578.26H50.88"/>
<rect class="bo" x="46.08" y="610.17" width="6.2" height="30.43"/>
<rect class="m" x="62.14" y="638.7" width="3.2" height="1.7"/>
<path class="e" d="M78.3 631.35V636.33"/>
<path class="c" d="M76.6 631.35H80"/>
<rect class="bo" x="75.2" y="636.93" width="6.2" height="3.67"/>
<rect class="m" x="91.26" y="638.7" width="3.2" height="1.7"/>
<path class="e" d="M136.54 523.32V558.9"/>
<path class="c" d="M134.84 523.32H138.24"/>
<rect class="bo" x="133.44" y="559.5" width="6.2" height="81.1"/>
<path class="e" d="M165.66 622.1V633.48"/>
<path class="c" d="M163.96 622.1H167.36"/>
<rect class="bo" x="162.56" y="634.08" width="6.2" height="6.52"/>
<path class="e" d="M180.22 632.06V637.75"/>
<path class="c" d="M178.52 632.06H181.92"/>
<rect class="bo" x="177.12" y="638.35" width="6.2" height="2.25"/>
<rect class="m" x="207.74" y="638.7" width="3.2" height="1.7"/>
<path class="e" d="M238.46 635.9V639.6"/>
<path class="c" d="M236.76 635.9H240.16"/>
<rect class="m" x="234.66" y="639.3" width="7.6" height="1.3"/>
<path class="e" d="M253.02 620.1V629.21"/>
<path class="c" d="M251.32 620.1H254.72"/>
<rect class="bo" x="249.92" y="629.81" width="6.2" height="10.79"/>
<path class="ax" d="M41.9 512.2V640.6H260.7"/>
<path class="t" d="M41.9 638.8V642.7M56.46 638.8V642.7M71.02 638.8V642.7M85.58 638.8V642.7M100.14 638.8V642.7M114.7 638.8V642.7M129.26 638.8V642.7M143.82 638.8V642.7M158.38 638.8V642.7M172.94 638.8V642.7M187.5 638.8V642.7M202.06 638.8V642.7M216.62 638.8V642.7M231.18 638.8V642.7M245.74 638.8V642.7M260.3 638.8V642.7M40.5 640.6H43.8M40.5 597.9H43.8M40.5 555.2H43.8M40.5 512.5H43.8"/>
<text class="tk" text-anchor="end" x="37.5" y="642.85">0</text>
<text class="tk" text-anchor="end" x="37.5" y="600.15">30</text>
<text class="tk" text-anchor="end" x="37.5" y="557.45">60</text>
<text class="tk" text-anchor="end" x="37.5" y="514.75">90</text>
<text class="tk" text-anchor="middle" x="49.18" y="650.6">1</text>
<text class="tk" text-anchor="middle" x="63.74" y="650.6">2</text>
<text class="tk" text-anchor="middle" x="78.3" y="650.6">3</text>
<text class="tk" text-anchor="middle" x="92.86" y="650.6">4</text>
<text class="tk" text-anchor="middle" x="107.42" y="650.6">5</text>
<text class="tk" text-anchor="middle" x="121.98" y="650.6">6</text>
<text class="tk" text-anchor="middle" x="136.54" y="650.6">7</text>
<text class="tk" text-anchor="middle" x="151.1" y="650.6">8</text>
<text class="tk" text-anchor="middle" x="165.66" y="650.6">9</text>
<text class="tk" text-anchor="middle" transform="translate(180.22 650.6) scale(0.87 1)">10</text>
<text class="tk" text-anchor="middle" transform="translate(194.78 650.6) scale(0.87 1)">11</text>
<text class="tk" text-anchor="middle" transform="translate(209.34 650.6) scale(0.87 1)">12</text>
<text class="tk" text-anchor="middle" transform="translate(223.9 650.6) scale(0.87 1)">13</text>
<text class="tk" text-anchor="middle" transform="translate(238.46 650.6) scale(0.87 1)">14</text>
<text class="tk" text-anchor="middle" transform="translate(253.02 650.6) scale(0.87 1)">15</text>
<text xml:space="preserve" textLength="39.75" lengthAdjust="spacingAndGlyphs" x="214.53" y="519.83"><tspan class="bi">PML/RARA</tspan></text>
<text xml:space="preserve" textLength="28" lengthAdjust="spacingAndGlyphs" x="219.75" y="530.08"><tspan class="rg">ider(17)</tspan></text>
<text xml:space="preserve" textLength="17.3" lengthAdjust="spacingAndGlyphs" x="224.95" y="539.83"><tspan class="rg">n = 7</tspan></text>
</g>
<g transform="rotate(-0.17 300 576.6)">
<path class="fr" style="stroke:#444" d="M300 512.1H518.1"/>
<path class="fr" d="M517.6 512.1V641.1"/>
<path class="e" d="M307.25 527.87V584.2"/>
<path class="c" d="M305.55 527.87H308.95"/>
<rect class="bo" x="304.15" y="584.8" width="6.2" height="56.3"/>
<path class="e" d="M321.76 636.8V639.09"/>
<path class="c" d="M320.06 636.8H323.46"/>
<rect class="m" x="317.96" y="638.79" width="7.6" height="2.31"/>
<path class="e" d="M336.27 609.85V625.62"/>
<path class="c" d="M334.57 609.85H337.97"/>
<rect class="bo" x="333.17" y="626.22" width="6.2" height="14.88"/>
<path class="e" d="M350.77 600.25V620.75"/>
<path class="c" d="M349.07 600.25H352.47"/>
<rect class="bo" x="347.67" y="621.35" width="6.2" height="19.75"/>
<path class="e" d="M394.29 576.03V608.56"/>
<path class="c" d="M392.59 576.03H395.99"/>
<rect class="bo" x="391.19" y="609.16" width="6.2" height="31.94"/>
<path class="e" d="M408.8 629.63V635.65"/>
<path class="c" d="M407.1 629.63H410.5"/>
<rect class="bo" x="405.7" y="636.25" width="6.2" height="4.85"/>
<path class="e" d="M423.31 634.79V637.66"/>
<path class="c" d="M421.61 634.79H425.01"/>
<rect class="bo" x="420.21" y="638.26" width="6.2" height="2.84"/>
<path class="e" d="M437.81 632.93V636.66"/>
<path class="c" d="M436.11 632.93H439.51"/>
<rect class="bo" x="434.71" y="637.26" width="6.2" height="3.84"/>
<path class="e" d="M510.35 632.5V636.8"/>
<path class="c" d="M508.65 632.5H512.05"/>
<rect class="bo" x="507.25" y="637.4" width="6.2" height="3.7"/>
<path class="ax" d="M300 511.8V641.1H518"/>
<path class="t" d="M300 639.3V643.2M314.51 639.3V643.2M329.01 639.3V643.2M343.52 639.3V643.2M358.03 639.3V643.2M372.53 639.3V643.2M387.04 639.3V643.2M401.55 639.3V643.2M416.05 639.3V643.2M430.56 639.3V643.2M445.07 639.3V643.2M459.57 639.3V643.2M474.08 639.3V643.2M488.59 639.3V643.2M503.09 639.3V643.2M517.6 639.3V643.2M298.6 641.1H301.9M298.6 598.1H301.9M298.6 555.1H301.9M298.6 512.1H301.9"/>
<text class="tk" text-anchor="end" x="294.4" y="643.35">0</text>
<text class="tk" text-anchor="end" x="294.4" y="600.35">30</text>
<text class="tk" text-anchor="end" x="294.4" y="557.35">60</text>
<text class="tk" text-anchor="end" x="294.4" y="514.35">90</text>
<text class="tk" text-anchor="middle" x="307.25" y="651.1">1</text>
<text class="tk" text-anchor="middle" x="321.76" y="651.1">2</text>
<text class="tk" text-anchor="middle" x="336.27" y="651.1">3</text>
<text class="tk" text-anchor="middle" x="350.77" y="651.1">4</text>
<text class="tk" text-anchor="middle" x="365.28" y="651.1">5</text>
<text class="tk" text-anchor="middle" x="379.79" y="651.1">6</text>
<text class="tk" text-anchor="middle" x="394.29" y="651.1">7</text>
<text class="tk" text-anchor="middle" x="408.8" y="651.1">8</text>
<text class="tk" text-anchor="middle" x="423.31" y="651.1">9</text>
<text class="tk" text-anchor="middle" transform="translate(437.81 651.1) scale(0.87 1)">10</text>
<text class="tk" text-anchor="middle" transform="translate(452.32 651.1) scale(0.87 1)">11</text>
<text class="tk" text-anchor="middle" transform="translate(466.83 651.1) scale(0.87 1)">12</text>
<text class="tk" text-anchor="middle" transform="translate(481.33 651.1) scale(0.87 1)">13</text>
<text class="tk" text-anchor="middle" transform="translate(495.84 651.1) scale(0.87 1)">14</text>
<text class="tk" text-anchor="middle" transform="translate(510.35 651.1) scale(0.87 1)">15</text>
<text xml:space="preserve" textLength="81" lengthAdjust="spacingAndGlyphs" x="432.3" y="526.77"><tspan class="bi">RARA not rearranged</tspan></text>
<text xml:space="preserve" textLength="19.2" lengthAdjust="spacingAndGlyphs" x="464.7" y="537.32"><tspan class="rg">n = 5</tspan></text>
</g>
<text class="lab" text-anchor="middle" x="281.5" y="689.8">Categories of cells</text>
<text class="lab" text-anchor="middle" transform="translate(10.8 336.9) rotate(-90) scale(0.968 1)" x="0" y="0">Percentage of positive cells</text>
</svg></body></html>
